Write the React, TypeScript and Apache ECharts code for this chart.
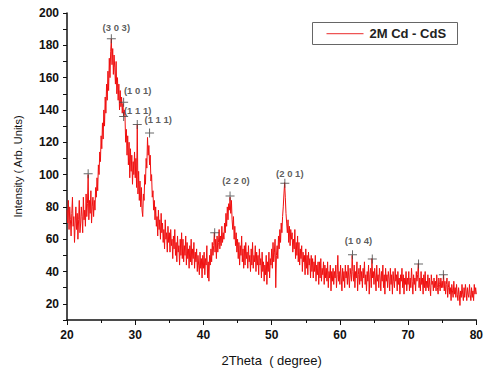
import React, { useEffect, useRef } from "react";
import * as echarts from "echarts";

// Scan grid: 2Theta from 20 to 80 degrees in 0.1 degree steps
const thetaStart = 20;
const thetaStep = 0.1;

// Intensity readings (Arb. Units), one per grid step (10 per degree)
const intensity: number[] = [
  78, 70, 84, 66, 80, 72, 62, 76, 86, 68,
  74, 58, 70, 80, 66, 76, 60, 72, 84, 64,
  70, 80, 74, 64, 86, 72, 78, 68, 88, 74,
  82, 100, 72, 84, 76, 90, 70, 80, 86, 74,
  84, 78, 92, 86, 98, 90, 106, 100, 114, 108,
  124, 116, 132, 122, 140, 130, 148, 138, 156, 146,
  164, 152, 172, 160, 176, 184, 168, 178, 162, 174,
  166, 156, 170, 150, 160, 146, 156, 140, 152, 142,
  148, 138, 144, 136, 140, 136, 120, 128, 112, 124,
  106, 120, 98, 116, 102, 112, 94, 108, 100, 114,
  98, 110, 92, 131, 88, 102, 84, 96, 80, 92,
  78, 74, 88, 84, 100, 94, 110, 104, 123, 112,
  118, 106, 112, 96, 100, 86, 90, 78, 84, 72,
  80, 68, 74, 62, 78, 66, 72, 60, 76, 64,
  70, 58, 66, 54, 72, 60, 64, 52, 68, 58,
  64, 52, 66, 56, 60, 48, 62, 54, 66, 50,
  58, 46, 62, 52, 56, 44, 60, 50, 64, 48,
  60, 46, 56, 50, 62, 44, 58, 48, 54, 42,
  56, 46, 60, 44, 54, 48, 58, 42, 52, 46,
  54, 40, 50, 44, 38, 52, 42, 48, 36, 50,
  42, 52, 38, 48, 44, 56, 36, 46, 34, 50,
  44, 54, 46, 58, 50, 56, 64, 52, 60, 48,
  62, 52, 58, 66, 54, 62, 56, 68, 58, 64,
  60, 70, 64, 76, 68, 80, 72, 82, 78, 86,
  76, 84, 72, 66, 74, 60, 68, 56, 64, 52,
  60, 48, 58, 44, 56, 50, 62, 46, 54, 42,
  56, 44, 58, 48, 52, 42, 56, 46, 50, 40,
  54, 44, 58, 42, 50, 46, 56, 40, 52, 44,
  50, 38, 54, 44, 48, 36, 52, 40, 46, 34,
  44, 38, 50, 32, 46, 40, 52, 36, 48, 44,
  54, 42, 58, 46, 52, 60, 30, 50, 56, 48,
  62, 54, 66, 58, 70, 64, 74, 80, 88, 95,
  86, 76, 70, 64, 72, 58, 68, 56, 66, 60,
  64, 52, 60, 54, 66, 48, 58, 50, 62, 46,
  58, 44, 54, 48, 56, 40, 52, 46, 50, 38,
  54, 42, 50, 38, 52, 44, 48, 36, 50, 40,
  48, 36, 46, 40, 50, 34, 44, 38, 46, 32,
  46, 36, 48, 34, 42, 38, 46, 32, 44, 36,
  42, 34, 46, 30, 40, 36, 44, 28, 40, 34,
  42, 32, 40, 36, 44, 30, 38, 50, 34, 40,
  32, 44, 36, 28, 42, 34, 40, 30, 44, 36,
  40, 32, 44, 36, 30, 42, 38, 34, 50, 40,
  34, 44, 30, 40, 36, 46, 28, 38, 42, 32,
  44, 34, 40, 30, 42, 36, 46, 32, 38, 28,
  40, 34, 44, 26, 38, 42, 30, 48, 36, 40,
  32, 42, 36, 28, 44, 34, 38, 30, 42, 36,
  28, 40, 34, 44, 30, 38, 26, 42, 34, 38,
  30, 40, 36, 28, 42, 32, 38, 26, 40, 34,
  30, 42, 34, 38, 28, 40, 32, 36, 26, 38,
  34, 42, 30, 38, 26, 36, 32, 40, 28, 36,
  32, 40, 28, 36, 30, 42, 34, 26, 38, 32,
  36, 28, 40, 34, 38, 45, 30, 36, 28, 40,
  32, 36, 26, 38, 30, 40, 28, 34, 30, 38,
  28, 36, 30, 25, 38, 32, 34, 28, 36, 30,
  34, 28, 38, 30, 26, 36, 32, 28, 36, 30,
  34, 30, 38, 28, 34, 26, 32, 36, 24, 30,
  34, 26, 30, 22, 32, 28, 24, 34, 26, 30,
  24, 32, 26, 22, 30, 26, 19, 28, 24, 32,
  26, 22, 30, 24, 32, 28, 22, 30, 26, 24,
  32, 26, 22, 30, 24, 28, 22, 32, 26, 30,
  26,
];

// Peak markers (+) and their Miller index labels
const peakTheta = [23.1, 26.5, 28.3, 28.3, 30.3, 32.1, 41.65, 43.9, 51.93, 61.85, 64.75, 71.53, 75.17];
const peakIntensity = [100.5, 184, 144.8, 136, 131, 125.7, 64, 86.7, 94.7, 50.4, 47.7, 44.6, 38];
const peakLabel = ["", "(3 0 3)", "(1 0 1)", "(1 1 1)", "(1 1 1)", "", "", "(2 2 0)", "(2 0 1)", "(1 0 4)", "", "", ""];

const yTickLabels = [20, 40, 60, 80, 100, 120, 140, 160, 180, 200];
const xTickLabels = [20, 30, 40, 50, 60, 70, 80];

const seriesName = "2M Cd - CdS";

// label offsets (styling) relative to each marker centre
const labelOffsets: number[][] = [
  [0, 0], [5, -11], [14, -12], [14, -6], [21, -5], [0, 0], [0, 0], [6, -16], [5, -10], [6, -14], [0, 0], [0, 0], [0, 0],
];

const plusPath = "path://M4,0h1v4h4v1h-4v4h-1v-4h-4v-1h4z";
const FONT = "Liberation Sans, Arial, sans-serif";
const RED = "#f01010";

export default function App() {
  const ref = useRef<HTMLDivElement>(null);
  useEffect(() => {
    if (!ref.current) return;
    const chart = echarts.init(ref.current, undefined, { renderer: "svg" });
    const lineData = intensity.map((v, i) => [+(thetaStart + i * thetaStep).toFixed(2), v]);
    const markData = peakTheta.map((t, i) => ({
      value: [t, peakIntensity[i]],
      name: peakLabel[i],
      label: {
        show: peakLabel[i] !== "",
        position: "inside",
        offset: labelOffsets[i],
        formatter: peakLabel[i],
      },
    }));
    chart.setOption({
      animation: false,
      backgroundColor: "#ffffff",
      grid: { left: 67, right: 6, top: 13, bottom: 54, containLabel: false },
      graphic: [
        {
          type: "group",
          left: 312,
          top: 22,
          children: [
            {
              type: "rect",
              shape: { x: 0, y: 0, width: 145, height: 22 },
              style: { fill: "#fff", stroke: "#666", lineWidth: 1 },
            },
            {
              type: "rect",
              shape: { x: 14, y: 10.5, width: 37, height: 1.2 },
              style: { fill: "#ee5555" },
            },
            {
              type: "text",
              x: 57,
              y: 11,
              style: {
                text: seriesName,
                fill: "#222",
                font: "bold 13px " + FONT,
                verticalAlign: "middle",
                align: "left",
              },
            },
          ],
        },
      ],
      xAxis: {
        type: "value",
        min: 20,
        max: 80,
        interval: 10,
        name: "2Theta  ( degree)",
        nameLocation: "middle",
        nameGap: 34,
        nameTextStyle: { fontSize: 13, color: "#111", fontFamily: FONT },
        axisLine: { show: true, lineStyle: { color: "#111", width: 1.5 } },
        axisTick: { show: true, length: 5, lineStyle: { color: "#111" } },
        minorTick: { show: true, splitNumber: 2, length: 3, lineStyle: { color: "#111" } },
        splitLine: { show: false },
        axisLabel: {
          fontSize: 12,
          fontWeight: "bold",
          color: "#111",
          margin: 9,
          fontFamily: FONT,
          formatter: (v: number) => (xTickLabels.includes(v) ? String(v) : ""),
        },
      },
      yAxis: {
        type: "value",
        min: 10,
        max: 200,
        interval: 10,
        name: "Intensity ( Arb. Units)",
        nameLocation: "middle",
        nameGap: 44,
        nameTextStyle: { fontSize: 11, color: "#111", fontFamily: FONT },
        axisLine: { show: true, lineStyle: { color: "#111", width: 1.5 } },
        axisTick: { show: true, length: 4, lineStyle: { color: "#111" } },
        splitLine: { show: false },
        axisLabel: {
          fontSize: 12,
          fontWeight: "bold",
          color: "#111",
          margin: 8,
          fontFamily: FONT,
          formatter: (v: number) => (yTickLabels.includes(v) ? String(v) : ""),
        },
      },
      series: [
        {
          name: seriesName,
          type: "line",
          data: lineData,
          symbol: "none",
          lineStyle: { color: RED, width: 1 },
          itemStyle: { color: RED },
          z: 2,
        },
        {
          name: "peaks",
          type: "scatter",
          data: markData,
          symbol: plusPath,
          symbolSize: 9,
          itemStyle: { color: "#444" },
          label: {
            color: "#333",
            fontSize: 9.5,
            fontWeight: "bold",
            fontFamily: FONT,
          },
          z: 3,
        },
      ],
    });
    return () => chart.dispose();
  }, []);
  return (
    <div
      ref={ref}
      style={{ position: "fixed", left: 0, top: 0, width: 486, height: 374, background: "#fff" }}
    />
  );
}
